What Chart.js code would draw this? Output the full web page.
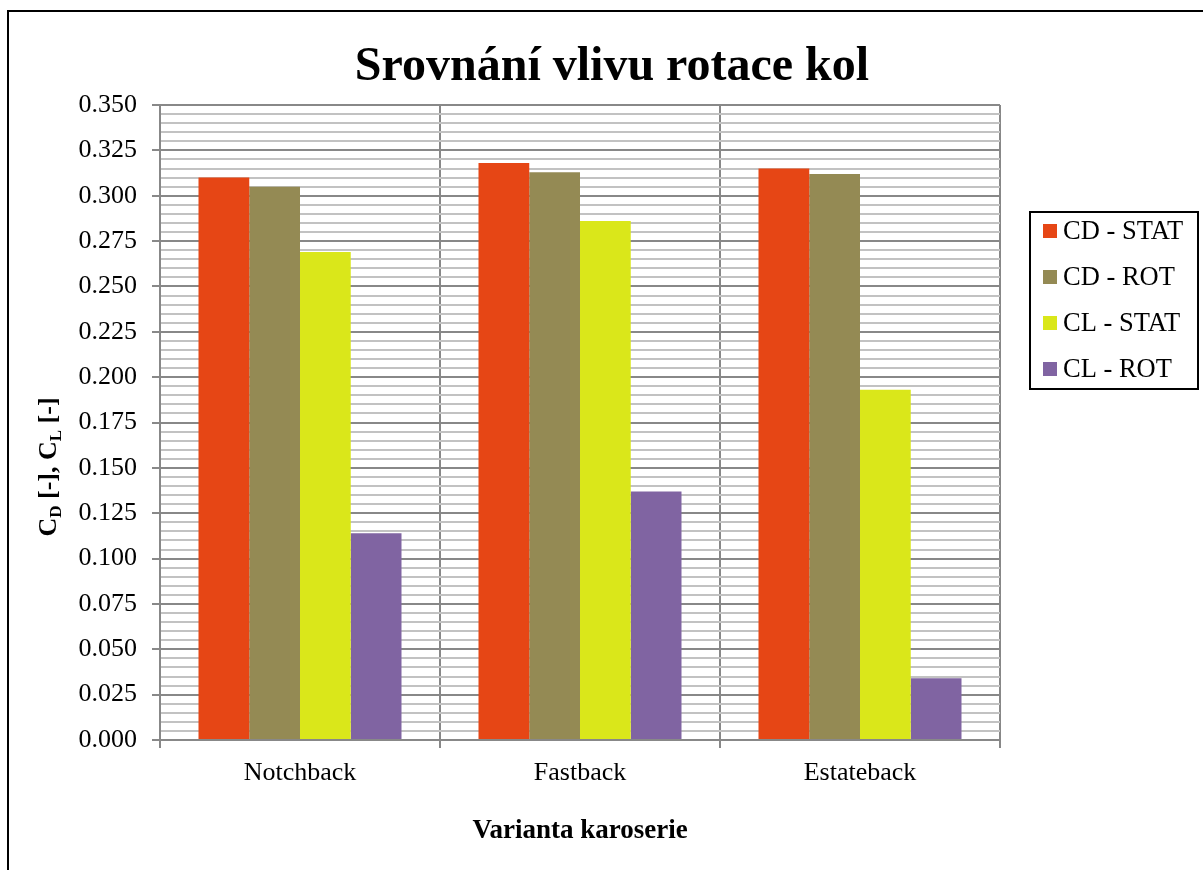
<!DOCTYPE html>
<html lang="cs">
<head>
  <meta charset="UTF-8">
  <title>Srovnání vlivu rotace kol</title>
  <script src="https://cdn.jsdelivr.net/npm/chart.js"></script>
  <style>
    html, body { margin: 0; padding: 0; background: #fff; overflow: hidden; }
    .ramecek {
      position: absolute;
      left: 7px;
      top: 10px;
      width: 1210px;
      height: 880px;
      border: 2px solid #000;
      box-sizing: border-box;
      background: #fff;
    }
    canvas { display: block; }
  </style>
</head>
<body>
  <div class="ramecek">
    <canvas id="graf" width="1206" height="876"></canvas>
  </div>

  <script>
    const nadpis = 'Srovnání vlivu rotace kol';
    const varianty = ['Notchback', 'Fastback', 'Estateback'];

    const cdStat = [0.310, 0.318, 0.315];
    const cdRot  = [0.305, 0.313, 0.312];
    const clStat = [0.269, 0.286, 0.193];
    const clRot  = [0.114, 0.137, 0.034];

    const nazvySerii = ['CD - STAT', 'CD - ROT', 'CL - STAT', 'CL - ROT'];
    const barvy = ['#E64615', '#948A54', '#DAE71A', '#8064A2'];

    // osa y: hlavni dilky po 0.025, vedlejsi mrizka po 0.005
    const yMax = 0.350;
    const hlavniKrok = 25;   // v tisicinach
    const vedlejsiKrok = 5;  // v tisicinach

    const pismo = "'Liberation Serif', 'Times New Roman', serif";
    const jeHlavni = v => Math.round(v * 1000) % hlavniKrok === 0;

    // nadpis, popisky os a legenda (index C_D, C_L se musi kreslit rucne)
    const popiskyOs = {
      id: 'popiskyOs',
      afterDraw(chart) {
        const ctx = chart.ctx;
        const area = chart.chartArea;
        ctx.save();
        ctx.fillStyle = '#000';

        // nadpis grafu, vystredeny na cely ramecek
        ctx.font = 'bold 48px ' + pismo;
        ctx.textAlign = 'center';
        ctx.textBaseline = 'alphabetic';
        ctx.fillText(nadpis, 603, 68);

        // nazev osy x
        ctx.font = 'bold 27px ' + pismo;
        ctx.textBaseline = 'middle';
        ctx.fillText('Varianta karoserie', (area.left + area.right) / 2, 819);

        // nazev osy y s dolnimi indexy
        const casti = [
          { t: 'C' }, { t: 'D', sub: true }, { t: ' [-], C' }, { t: 'L', sub: true }, { t: ' [-]' }
        ];
        const velky = 'bold 26px ' + pismo;
        const maly = 'bold 17px ' + pismo;
        let sirka = 0;
        casti.forEach(c => { ctx.font = c.sub ? maly : velky; c.w = ctx.measureText(c.t).width; sirka += c.w; });
        ctx.translate(38, 455);
        ctx.rotate(-Math.PI / 2);
        ctx.textAlign = 'left';
        ctx.textBaseline = 'alphabetic';
        let x = -sirka / 2;
        casti.forEach(c => {
          ctx.font = c.sub ? maly : velky;
          ctx.fillText(c.t, x, c.sub ? 14 : 9);
          x += c.w;
        });
        ctx.restore();

        // legenda v ramecku vpravo
        ctx.save();
        const lx = 1021, ly = 200, lw = 168, lh = 177;
        ctx.strokeStyle = '#000';
        ctx.lineWidth = 2;
        ctx.strokeRect(lx, ly, lw, lh);
        ctx.font = '26.5px ' + pismo;
        ctx.textAlign = 'left';
        ctx.textBaseline = 'middle';
        chart.data.datasets.forEach((ds, i) => {
          const cy = ly + 19 + i * 46;
          ctx.fillStyle = ds.backgroundColor;
          ctx.fillRect(lx + 13, cy - 7, 14, 14);
          ctx.fillStyle = '#000';
          ctx.fillText(ds.label, lx + 33, cy + 1);
        });
        ctx.restore();
      }
    };

    new Chart(document.getElementById('graf'), {
      type: 'bar',
      data: {
        labels: varianty,
        datasets: [cdStat, cdRot, clStat, clRot].map((hodnoty, i) => ({
          label: nazvySerii[i],
          data: hodnoty,
          backgroundColor: barvy[i],
          borderWidth: 0,
          categoryPercentage: 0.725,
          barPercentage: 1.0
        }))
      },
      options: {
        responsive: false,
        animation: false,
        layout: { padding: { left: 0, right: 215, top: 93, bottom: 0 } },
        plugins: {
          legend: { display: false },
          tooltip: { enabled: false },
          title: { display: false }
        },
        scales: {
          x: {
            afterFit: osa => { osa.height = 148; },
            grid: {
              offset: true,
              color: '#888',
              lineWidth: 2,
              tickLength: 8,
              tickColor: '#888'
            },
            border: { color: '#888', width: 2 },
            ticks: {
              color: '#000',
              font: { family: pismo, size: 26 },
              padding: 10,
              maxRotation: 0
            }
          },
          y: {
            min: 0,
            max: yMax,
            afterFit: osa => { osa.width = 151; },
            afterBuildTicks: osa => {
              const dilky = [];
              for (let m = 0; m <= Math.round(yMax * 1000); m += vedlejsiKrok) {
                dilky.push({ value: m / 1000 });
              }
              osa.ticks = dilky;
            },
            grid: {
              color: c => jeHlavni(c.tick.value) ? '#888' : '#c2c2c2',
              lineWidth: 2,
              tickLength: 8,
              tickColor: c => jeHlavni(c.tick.value) ? '#888' : 'rgba(0,0,0,0)'
            },
            border: { color: '#888', width: 2 },
            ticks: {
              autoSkip: false,
              color: '#000',
              font: { family: pismo, size: 26 },
              padding: 15,
              callback: v => jeHlavni(v) ? v.toFixed(3) : ''
            }
          }
        }
      },
      plugins: [popiskyOs]
    });
  </script>
</body>
</html>
